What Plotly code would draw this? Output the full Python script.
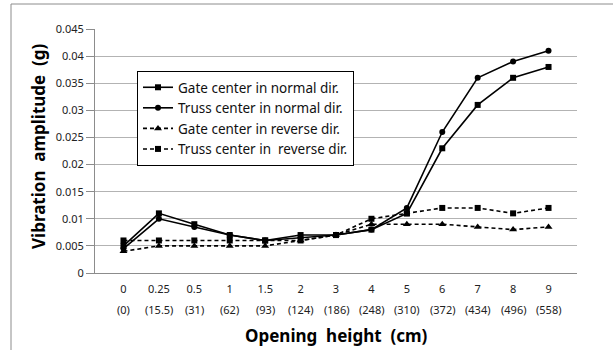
import plotly.graph_objects as go

categories = ["0", "0.25", "0.5", "1", "1.5", "2", "3", "4", "5", "6", "7", "8", "9"]
sub_labels = ["(0)", "(15.5)", "(31)", "(62)", "(93)", "(124)", "(186)", "(248)", "(310)", "(372)", "(434)", "(496)", "(558)"]

gate_normal = [0.005, 0.011, 0.009, 0.007, 0.006, 0.007, 0.007, 0.008, 0.011, 0.023, 0.031, 0.036, 0.038]
truss_normal = [0.0045, 0.010, 0.0085, 0.007, 0.006, 0.0065, 0.007, 0.008, 0.012, 0.026, 0.036, 0.039, 0.041]
gate_reverse = [0.004, 0.005, 0.005, 0.005, 0.005, 0.006, 0.007, 0.009, 0.009, 0.009, 0.0085, 0.008, 0.0085]
truss_reverse = [0.006, 0.006, 0.006, 0.006, 0.006, 0.006, 0.007, 0.010, 0.011, 0.012, 0.012, 0.011, 0.012]

y_ticks = [0, 0.005, 0.01, 0.015, 0.02, 0.025, 0.03, 0.035, 0.04, 0.045]
y_ticktext = ["0", "0.005", "0.01", "0.015", "0.02", "0.025", "0.03", "0.035", "0.04", "0.045"]

series = [
    ("Gate center in normal dir.", gate_normal, "solid", "square", 6),
    ("Truss center in normal dir.", truss_normal, "solid", "circle", 6),
    ("Gate center in reverse dir.", gate_reverse, "4px,3px", "triangle-up", 7),
    ("Truss center in  reverse dir.", truss_reverse, "4px,3px", "square", 6),
]

fig = go.Figure()
for name, vals, dash, sym, size in series:
    fig.add_trace(go.Scatter(
        x=categories, y=vals, name=name, mode="lines+markers",
        line=dict(color="black", width=1.6, dash=dash),
        marker=dict(symbol=sym, size=size, color="black"),
    ))

W, H = 613, 350
L, R, T, B = 95, 36, 29, 77
pw, ph = W - L - R, H - T - B

def px(x):
    return (x - L) / pw

def py(y):
    return (H - B - y) / ph

font_family = "Noto Sans"

fig.update_layout(
    width=W, height=H,
    margin=dict(l=L, r=R, t=T, b=B, pad=0),
    paper_bgcolor="white", plot_bgcolor="white",
    font=dict(family=font_family, size=11, color="#222"),
    showlegend=True,
    legend=dict(
        x=px(137), y=py(71), xanchor="left", yanchor="top",
        bgcolor="white", bordercolor="black", borderwidth=1,
        font=dict(family=font_family, size=13.5, color="#111"),
        tracegroupgap=0,
    ),
    xaxis=dict(
        type="category", showgrid=False, showline=True, linecolor="#8c8c8c", linewidth=1,
        ticks="outside", ticklen=6, tickcolor="rgba(0,0,0,0)",
        tickfont=dict(family=font_family, size=11, color="#222"),
        zeroline=False, fixedrange=True,
    ),
    yaxis=dict(
        range=[0, 0.045], tickvals=y_ticks, ticktext=y_ticktext,
        showgrid=True, gridcolor="#b3b3b3", gridwidth=1,
        showline=True, linecolor="#8c8c8c", linewidth=1,
        ticks="outside", ticklen=8, tickcolor="#8c8c8c",
        tickfont=dict(family=font_family, size=11, color="#222"),
        zeroline=False, fixedrange=True,
    ),
)

annotations = []
for i, s in enumerate(sub_labels):
    annotations.append(dict(
        x=i, y=py(309), xref="x", yref="paper", text=s, showarrow=False,
        xanchor="center", yanchor="middle",
        font=dict(family=font_family, size=11, color="#222"),
    ))
annotations.append(dict(
    x=0.5, y=py(335), xref="paper", yref="paper",
    text="<b>Opening  height  (cm)</b>", showarrow=False,
    xanchor="center", yanchor="middle",
    font=dict(family=font_family, size=17, color="black"),
))
annotations.append(dict(
    x=px(38), y=py(146), xref="paper", yref="paper",
    text="<b>Vibration  amplitude  (g)</b>", showarrow=False, textangle=-90,
    xanchor="center", yanchor="middle",
    font=dict(family=font_family, size=17, color="black"),
))
fig.update_layout(annotations=annotations)

fig.add_shape(
    type="rect", xref="paper", yref="paper",
    x0=px(11), x1=px(W + 5), y0=py(H + 5), y1=py(4),
    line=dict(color="#8c8c8c", width=1), fillcolor="rgba(0,0,0,0)", layer="below",
)

fig.write_html("out.html")
